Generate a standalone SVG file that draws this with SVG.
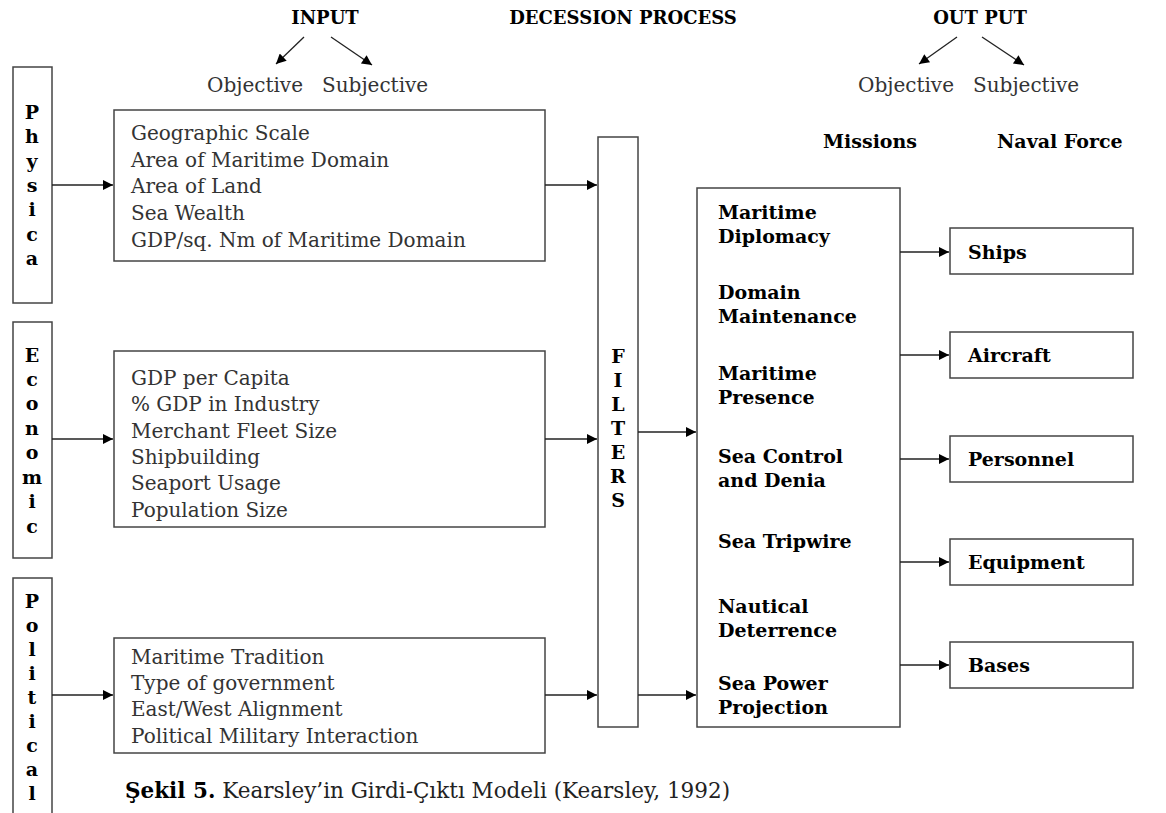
<svg xmlns="http://www.w3.org/2000/svg" width="1166" height="813" viewBox="0 0 1166 813">
<defs>
<marker id="ah" viewBox="0 0 10 10" refX="10" refY="5" markerWidth="13" markerHeight="10" markerUnits="userSpaceOnUse" orient="auto">
<path d="M0,0 L10,5 L0,10 z" fill="#000"/>
</marker>
<style>
.box{fill:#fff;stroke:#444;stroke-width:1.5}
.b{font-family:"DejaVu Serif","Liberation Serif",serif;font-weight:bold;fill:#000}
.h{font-size:18px}
.v{font-size:19px;text-anchor:middle}
.m{font-size:19px}
.r{font-family:"DejaVu Serif","Liberation Serif",serif;font-weight:300;fill:#333;font-size:20px}
.c line{stroke:#222;stroke-width:1.3;marker-end:url(#ah)}
</style>
</defs>
<rect width="1166" height="813" fill="#fff"/>
<g id="headers">
<text class="b h" x="325" y="24" text-anchor="middle">INPUT</text>
<text class="b h" x="623" y="24" text-anchor="middle">DECESSION PROCESS</text>
<text class="b h" x="980" y="24" text-anchor="middle">OUT PUT</text>
<text class="r" x="207" y="92">Objective</text>
<text class="r" x="322" y="92">Subjective</text>
<text class="r" x="858" y="92">Objective</text>
<text class="r" x="973" y="92">Subjective</text>
<text class="b m" x="823" y="148">Missions</text>
<text class="b m" x="997" y="148">Naval Force</text>
</g>
<g id="physica">
<rect class="box" x="13" y="67" width="39" height="236"/>
<text class="b v" x="32"><tspan x="32" y="119">P</tspan><tspan x="32" y="143">h</tspan><tspan x="32" y="168">y</tspan><tspan x="32" y="192">s</tspan><tspan x="32" y="216">i</tspan><tspan x="32" y="241">c</tspan><tspan x="32" y="265">a</tspan></text>
</g>
<g id="economic">
<rect class="box" x="13" y="322" width="39" height="236"/>
<text class="b v" x="32"><tspan x="32" y="362">E</tspan><tspan x="32" y="386">c</tspan><tspan x="32" y="410">o</tspan><tspan x="32" y="435">n</tspan><tspan x="32" y="459">o</tspan><tspan x="32" y="484">m</tspan><tspan x="32" y="508">i</tspan><tspan x="32" y="533">c</tspan></text>
</g>
<g id="political">
<rect class="box" x="13" y="578" width="39" height="240"/>
<text class="b v" x="32"><tspan x="32" y="608">P</tspan><tspan x="32" y="632">o</tspan><tspan x="32" y="656">l</tspan><tspan x="32" y="680">i</tspan><tspan x="32" y="704">t</tspan><tspan x="32" y="728">i</tspan><tspan x="32" y="752">c</tspan><tspan x="32" y="776">a</tspan><tspan x="32" y="800">l</tspan></text>
</g>
<g id="physical-factors">
<rect class="box" x="114" y="110" width="431" height="151"/>
<text class="r"><tspan x="131" y="140">Geographic Scale</tspan><tspan x="131" y="167">Area of Maritime Domain</tspan><tspan x="131" y="193">Area of Land</tspan><tspan x="131" y="220">Sea Wealth</tspan><tspan x="131" y="247">GDP/sq. Nm of Maritime Domain</tspan></text>
</g>
<g id="economic-factors">
<rect class="box" x="114" y="351" width="431" height="176"/>
<text class="r"><tspan x="131" y="385">GDP per Capita</tspan><tspan x="131" y="411">% GDP in Industry</tspan><tspan x="131" y="438">Merchant Fleet Size</tspan><tspan x="131" y="464">Shipbuilding</tspan><tspan x="131" y="490">Seaport Usage</tspan><tspan x="131" y="517">Population Size</tspan></text>
</g>
<g id="political-factors">
<rect class="box" x="114" y="638" width="431" height="115"/>
<text class="r"><tspan x="131" y="664">Maritime Tradition</tspan><tspan x="131" y="690">Type of government</tspan><tspan x="131" y="716">East/West Alignment</tspan><tspan x="131" y="743">Political Military Interaction</tspan></text>
</g>
<g id="filters">
<rect class="box" x="598" y="137" width="40" height="590"/>
<text class="b v" x="618"><tspan x="618" y="363">F</tspan><tspan x="618" y="387">I</tspan><tspan x="618" y="411">L</tspan><tspan x="618" y="435">T</tspan><tspan x="618" y="459">E</tspan><tspan x="618" y="483">R</tspan><tspan x="618" y="507">S</tspan></text>
</g>
<g id="missions">
<rect class="box" x="697" y="188" width="203" height="539"/>
<text class="b m"><tspan x="718" y="219">Maritime</tspan><tspan x="718" y="243">Diplomacy</tspan><tspan x="718" y="299">Domain</tspan><tspan x="718" y="323">Maintenance</tspan><tspan x="718" y="380">Maritime</tspan><tspan x="718" y="404">Presence</tspan><tspan x="718" y="463">Sea Control</tspan><tspan x="718" y="487">and Denia</tspan><tspan x="718" y="548">Sea Tripwire</tspan><tspan x="718" y="613">Nautical</tspan><tspan x="718" y="637">Deterrence</tspan><tspan x="718" y="690">Sea Power</tspan><tspan x="718" y="714">Projection</tspan></text>
</g>
<g id="ships"><rect class="box" x="950" y="228" width="183" height="46"/><text class="b m" x="968" y="259">Ships</text></g>
<g id="aircraft"><rect class="box" x="950" y="332" width="183" height="46"/><text class="b m" x="968" y="362">Aircraft</text></g>
<g id="personnel"><rect class="box" x="950" y="436" width="183" height="46"/><text class="b m" x="968" y="466">Personnel</text></g>
<g id="equipment"><rect class="box" x="950" y="539" width="183" height="46"/><text class="b m" x="968" y="569">Equipment</text></g>
<g id="bases"><rect class="box" x="950" y="642" width="183" height="46"/><text class="b m" x="968" y="672">Bases</text></g>
<g id="connectors" class="c">
<line x1="304" y1="37" x2="276" y2="64"/>
<line x1="331" y1="37" x2="372" y2="65"/>
<line x1="957" y1="37" x2="919" y2="64"/>
<line x1="982" y1="37" x2="1024" y2="65"/>
<line x1="52" y1="185" x2="113" y2="185"/>
<line x1="52" y1="439" x2="113" y2="439"/>
<line x1="52" y1="695" x2="113" y2="695"/>
<line x1="545" y1="185" x2="597" y2="185"/>
<line x1="545" y1="439" x2="597" y2="439"/>
<line x1="545" y1="695" x2="597" y2="695"/>
<line x1="638" y1="432" x2="696" y2="432"/>
<line x1="638" y1="695" x2="696" y2="695"/>
<line x1="900" y1="252" x2="949" y2="252"/>
<line x1="900" y1="355" x2="949" y2="355"/>
<line x1="900" y1="459" x2="949" y2="459"/>
<line x1="900" y1="562" x2="949" y2="562"/>
<line x1="900" y1="665" x2="949" y2="665"/>
</g>
<g id="caption">
<text x="125" y="798" style="font-family:'DejaVu Serif','Liberation Serif',serif;font-size:21.5px;fill:#222"><tspan font-weight="bold" fill="#000">Şekil 5.</tspan><tspan font-weight="300"> Kearsley’in Girdi-Çıktı Modeli (Kearsley, 1992)</tspan></text>
</g>
</svg>
